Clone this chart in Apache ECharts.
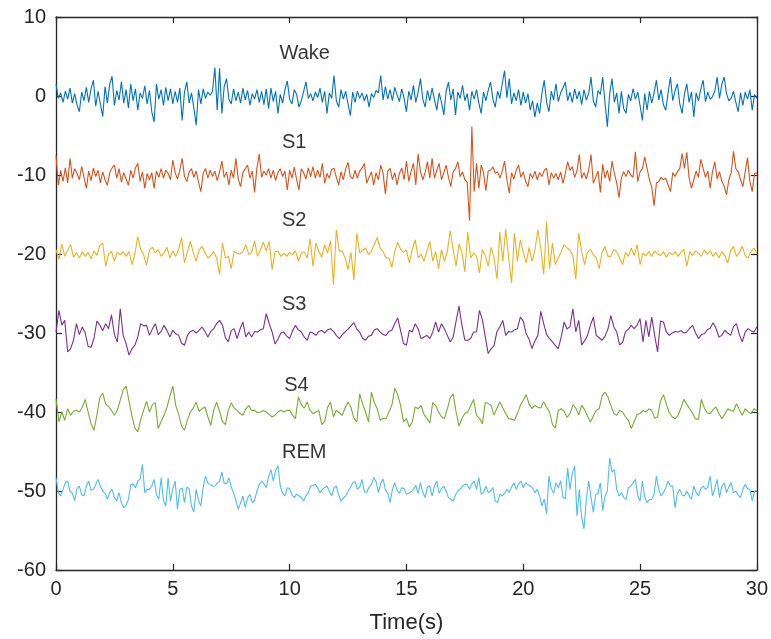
<!DOCTYPE html>
<html><head><meta charset="utf-8">
<script src="https://cdn.jsdelivr.net/npm/echarts@6/dist/echarts.min.js"></script>
<style>html,body{margin:0;padding:0;background:#fff;}#c{width:771px;height:639px;}</style>
</head><body><div id="c"></div>
<script>
// ---- data ----
const stageNames = ['Wake', 'S1', 'S2', 'S3', 'S4', 'REM'];
const stageOffsets = [0, -10, -20, -30, -40, -50];
const labelAnchors = [[9.55, 5.4], [9.65, -5.9], [9.65, -15.7], [9.65, -26.4], [9.75, -36.7], [9.65, -45.1]];
const durationSec = 30;
const xTicks = [0, 5, 10, 15, 20, 25, 30];
const yTicks = [-60, -50, -40, -30, -20, -10, 0, 10];

const wake = [
1.5,-0.3,0.4,-0.8,0.6,-0.4,1.0,-0.9,0.3,-1.1,
-2.0,0.5,-0.6,1.1,-0.8,0.9,2.0,-1.3,0.6,-1.0,
-2.6,1.2,-0.9,1.5,2.5,-1.2,0.7,-0.5,1.8,-0.9,
0.8,-1.5,1.5,-0.6,0.9,-1.8,0.4,-0.3,1.3,-1.0,
0.7,-2.0,-3.3,1.5,-0.4,0.8,-1.2,1.1,-0.6,0.9,
-1.0,0.6,-0.8,1.0,-3.1,0.5,1.8,-0.9,0.4,-1.5,
-3.7,0.8,-1.0,0.9,-0.3,0.5,0.1,0.6,3.6,-1.8,
3.5,-2.2,1.2,2.2,-0.4,-1.0,0.9,-0.6,0.5,-0.9,
1.0,-0.5,0.7,-1.2,0.3,-0.4,0.8,-0.8,0.6,-1.1,
0.9,-1.6,1.0,-0.7,0.6,-2.2,0.2,-0.9,0.8,1.9,
-0.4,-1.0,0.8,0.2,-1.4,-0.6,0.6,1.8,-0.3,0.3,
-0.6,0.5,-0.2,1.0,-0.8,0.6,-2.2,0.4,-0.3,2.6,
-0.6,-1.4,0.8,-0.4,0.6,-1.0,-2.5,0.5,-0.8,0.6,
-0.3,0.4,-0.6,0.2,-1.4,0.3,-0.2,0.7,0.4,2.6,
-0.5,1.2,-0.4,0.8,-0.6,1.1,0.1,-0.7,0.9,-0.3,
-2.0,0.6,-0.5,1.35,-0.8,0.5,2.2,-0.4,-1.4,0.7,
-0.6,1.0,-0.5,-1.8,0.4,-0.8,-2.4,0.6,1.76,-0.5,
0.9,-2.4,0.5,-0.3,1.35,-0.6,0.3,-1.8,0.6,-0.4,
0.8,-0.9,-2.2,0.5,-0.6,0.7,1.76,-0.4,-1.4,0.6,
-0.3,1.55,3.2,-0.2,2.2,-1.0,0.4,-0.6,0.8,-1.2,
0.5,-0.9,0.3,-1.8,-0.6,-2.65,-0.9,-2.2,0.4,2.0,
-0.8,-2.0,0.6,-0.5,1.55,-0.7,0.4,1.0,1.76,-0.6,
0.5,-0.8,0.9,-0.4,0.6,-1.1,0.8,-0.5,0.3,2.4,
-0.6,-1.4,0.7,0.2,2.4,-0.9,-3.9,0.3,2.2,-0.8,
0.4,-2.2,0.6,-1.6,-2.2,0.2,-0.6,0.92,-0.4,0.5,
-1.2,-3.1,0.3,-1.8,0.6,-0.9,0.4,2.0,-0.5,0.8,
-1.1,-1.8,0.4,2.4,-0.6,0.7,1.55,-1.0,-2.2,0.3,
1.55,-0.8,0.5,-2.65,0.4,-0.6,0.9,2.0,-0.7,0.5,
-0.4,-0.1,0.6,2.4,-0.3,1.5,2.4,0.3,-0.6,-0.3,
0.6,-0.8,-2.0,0.4,-1.2,0.5,-0.4,0.8,-1.8,0.2,
-0.3];

const s1 = [
2.5,-1.3,0.6,-0.8,0.9,-1.0,2.1,-0.4,0.8,0.2,
-0.6,1.1,-0.3,-1.7,0.5,-0.7,0.9,-0.2,0.6,-1.0,
0.4,-0.6,-1.3,0.3,0.9,1.26,-0.4,0.8,-0.9,0.3,
-0.5,-1.3,0.6,-0.4,0.9,1.47,-0.8,0.4,-1.7,0.2,
-0.6,0.3,-1.7,0.5,-0.3,0.8,-0.4,0.6,0.2,-0.6,
1.9,0.3,-0.5,0.6,2.1,-0.2,-0.84,0.4,0.8,-0.3,
0.5,-0.9,-2.1,0.2,0.84,-0.4,0.6,-0.2,0.5,-0.7,
0.4,1.76,-0.3,0.4,-1.26,0.6,-0.4,2.1,-0.5,-1.47,
0.3,0.8,1.26,-0.4,0.5,-2.2,0.9,2.65,-0.3,0.5,
0.0,0.8,-0.4,0.6,-0.7,0.3,0.8,-0.2,0.5,-1.9,
0.6,-0.4,1.0,-0.6,-1.9,0.8,0.3,-0.5,0.9,-0.2,
1.05,-0.4,0.6,-0.3,1.47,-1.05,0.2,-0.4,0.7,0.84,
-0.3,-1.26,0.4,-0.6,0.8,1.6,-0.2,-0.5,0.6,-0.4,
0.5,0.9,1.47,-1.05,-0.3,0.4,-1.26,0.3,-0.6,1.26,
0.2,-2.44,0.5,0.84,-0.6,0.3,-1.26,0.2,0.9,-0.6,
1.76,-0.8,0.5,1.47,-1.26,2.65,0.42,-0.6,0.3,1.68,
-0.4,2.1,-0.4,0.6,1.47,-0.6,0.3,1.26,-0.3,-1.47,
0.4,0.8,1.68,-0.2,0.4,-0.6,-0.9,-5.8,6.1,-2.1,
1.47,-1.7,1.26,0.3,-1.97,0.5,0.6,1.05,0.2,0.42,
-0.4,0.5,1.76,-0.6,-2.3,0.3,-0.5,0.6,1.26,-0.3,
0.4,-0.8,-1.47,0.2,-0.4,0.5,-0.6,0.3,-0.2,0.6,
0.84,-1.26,0.3,-0.4,0.2,-0.6,0.4,-1.05,0.2,1.68,
0.6,1.05,-0.3,0.5,2.6,-0.42,0.3,-0.5,0.6,2.6,
-1.05,-0.3,0.5,-2.2,1.35,-0.4,0.6,-0.8,1.76,0.2,
-1.0,-2.86,-0.4,0.42,-0.2,0.6,0.0,-0.3,2.94,-0.84,
0.4,0.8,2.3,0.84,-0.6,-1.5,-3.9,-1.0,-0.84,-0.3,
-0.6,-0.4,-1.26,-2.1,0.3,-0.2,0.42,0.8,2.7,0.84,
2.86,-0.4,-1.68,-0.6,0.5,-0.3,2.0,0.84,-0.3,0.5,
-1.68,0.4,1.68,-0.5,0.42,-0.8,-1.4,-2.5,-0.6,0.3,
3.0,0.8,0.42,-0.6,-1.47,0.4,2.2,-0.84,-2.1,0.2,
0.3];

const s2 = [
0.55,-0.7,1.26,-0.3,0.5,1.18,-0.4,0.2,
-0.5,0.3,-0.3,0.2,-0.6,0.4,-0.2,1.1,
1.39,-1.55,0.0,0.34,-0.92,0.2,-0.1,0.3,
-0.3,0.34,-1.34,0.0,2.2,0.6,-0.08,-1.43,
0.5,0.84,0.13,0.55,-0.3,0.2,0.84,-0.5,
0.4,-0.3,0.6,2.1,-1.13,0.3,1.6,0.2,
-0.92,0.5,0.97,0.2,-0.5,-0.2,0.3,-0.5,
-2.6,1.39,-0.5,-0.3,-1.85,0.34,0.1,0.0,
0.3,1.18,-0.08,0.2,1.68,-0.3,0.5,1.5,
0.4,1.6,-1.97,0.3,0.34,-0.3,0.1,-0.3,
0.2,-0.08,0.4,-0.92,0.1,0.3,-0.5,1.93,
-1.55,1.39,0.3,-0.4,1.18,0.1,1.68,-3.9,
3.07,0.34,0.4,-0.5,-1.97,0.2,-3.3,2.65,
0.13,0.5,0.76,-0.08,0.4,1.2,2.1,0.76,
0.3,-0.5,-0.5,-1.68,0.3,1.5,0.6,0.2,
0.5,-1.13,0.6,1.8,-0.5,0.0,-0.92,0.4,
1.6,-0.92,0.3,-1.85,0.55,-0.92,0.3,2.94,
0.55,-1.55,1.26,0.2,-2.27,2.77,-0.5,0.13,
-0.3,-2.4,0.55,-0.2,-1.55,0.84,-0.5,-3.2,
2.77,-0.92,3.2,-0.5,-3.7,2.65,-0.92,1.8,
0.2,-1.13,0.84,-0.92,0.5,3.07,0.76,-2.6,
4.1,-1.85,1.39,-1.34,-0.5,0.3,1.18,0.76,
0.5,-0.2,-3.2,2.65,0.3,-1.34,0.2,0.55,
-0.08,-0.5,-1.85,0.2,0.97,-0.3,-0.3,0.55,
0.3,-0.5,-1.34,0.2,-0.3,0.76,-0.2,1.18,
-1.34,0.1,-0.2,0.3,-0.3,0.4,0.0,-0.2,
0.3,-0.4,0.2,-0.1,0.3,-0.3,0.2,0.6,
-1.55,0.3,-0.2,0.4,0.1,-0.3,0.5,0.0,
0.4,-0.3,0.2,-0.5,0.3,-0.2,-1.13,0.4,
0.97,-0.3,0.2,0.97,-0.2,-0.5,0.3,0.76,
0.1];

const s3 = [
0.13,2.86,1.0,1.6,-2.4,-1.97,-0.92,1.18,
-0.2,0.76,0.0,-1.7,-1.8,-0.7,1.5,1.0,
0.3,1.18,0.55,2.3,-0.2,-1.13,3.07,-0.3,
-1.34,-2.8,-2.0,-1.55,-0.5,1.18,0.9,0.97,
-0.3,0.5,1.18,-0.2,0.2,0.97,0.3,-0.5,
0.34,-0.1,-0.3,-1.3,-1.55,-0.3,0.2,0.34,
0.0,0.34,0.76,0.2,-0.5,0.2,0.55,1.2,
1.6,1.0,-0.6,-1.13,0.3,0.55,-0.7,0.5,
1.39,-0.5,0.13,-0.5,0.2,0.13,0.4,0.55,
2.44,1.2,0.13,-1.4,-0.8,0.0,0.13,-0.4,
-0.7,0.3,0.97,0.4,0.13,-0.5,-0.92,0.13,
0.0,-0.3,0.2,0.34,0.0,0.4,0.55,0.2,
-0.3,-0.71,-0.2,0.13,0.5,0.9,1.3,0.5,
0.1,-0.7,-0.92,-0.4,-0.3,0.4,0.55,0.13,
-0.2,-0.3,0.2,0.34,1.2,1.9,0.3,-1.34,
-1.55,0.34,0.13,1.18,0.55,-0.71,-0.5,-0.3,
-0.71,0.1,1.39,0.13,1.18,0.55,-0.3,-1.13,
-0.5,1.5,3.4,1.0,-0.9,-0.92,-0.7,0.13,
0.13,2.86,1.7,-0.5,-2.6,-2.0,-1.6,0.2,
0.8,1.6,-0.3,0.2,0.13,0.4,0.55,2.0,
1.5,-0.1,-0.8,-1.97,-1.0,-0.3,2.73,1.2,
-0.2,-0.71,-1.13,-1.6,-1.97,-0.5,1.4,0.5,
0.8,3.07,0.13,1.6,-1.5,-1.0,-0.3,1.0,
2.0,-0.3,-0.6,-0.92,-0.4,0.5,2.2,0.8,
0.13,-1.5,-1.2,0.13,0.5,0.97,0.55,1.0,
1.8,-1.13,1.6,-0.5,2.0,-0.3,-2.4,1.5,
1.4,0.13,-0.3,0.0,0.2,0.13,0.3,0.0,
0.13,0.6,0.97,0.0,-0.71,-0.2,-0.1,0.4,
0.6,1.3,0.6,-0.5,-0.3,0.34,0.0,-0.3,
0.8,1.18,-0.2,-1.13,0.1,0.55,0.3,0.13,
0.8];

const s4 = [
1.68,-1.26,0.0,-1.05,0.42,-0.42,0.1,0.21,
0.0,0.6,1.6,0.0,-1.5,-2.3,-0.42,1.8,
2.4,1.0,0.7,0.2,-0.42,0.21,1.5,2.8,
3.28,1.4,-0.5,-2.0,-2.5,-1.0,0.2,1.34,
0.0,0.9,1.18,-2.1,-1.2,-0.42,0.6,2.0,
3.28,0.84,-0.3,-1.8,-2.3,-1.0,0.0,0.5,
1.26,0.1,0.4,0.63,-0.6,-1.68,0.2,1.26,
0.1,-1.2,-1.6,0.2,1.18,0.5,0.21,-0.2,
-0.42,0.4,0.84,0.2,0.21,-0.1,0.0,0.2,
0.0,-0.3,-0.63,-0.4,0.0,0.21,0.0,0.2,
0.21,-0.4,-0.84,1.9,0.9,0.5,1.26,0.2,
-0.21,0.0,0.21,-1.6,-1.2,0.6,1.26,-0.6,
0.21,-0.1,-0.42,0.5,1.26,0.6,-0.8,-1.26,
2.3,1.0,0.0,-1.26,2.5,1.2,0.42,-1.05,
-0.8,-0.84,0.0,0.84,3.0,2.2,0.84,-1.26,
-0.84,-1.9,-1.26,0.63,0.42,0.84,-0.3,-0.8,
-1.4,1.2,0.84,0.0,-0.6,-0.84,0.4,1.8,
2.3,0.0,-1.8,-0.8,-0.2,0.0,0.8,1.6,
-0.42,-0.8,-1.5,1.18,1.1,0.8,-0.4,0.5,
1.26,0.5,-0.2,-0.84,-0.9,-1.05,-0.2,0.84,
1.5,2.2,1.0,0.42,0.84,0.6,0.5,1.3,
0.6,0.0,-1.6,-2.0,0.2,0.42,0.1,-0.7,
-0.2,0.9,0.5,-0.4,0.84,0.3,-0.5,-1.26,
-0.5,0.21,0.42,2.0,2.5,1.9,0.84,-0.2,
-0.42,0.2,0.0,-0.6,-1.05,-2.1,-1.2,-0.3,
-0.2,0.2,0.0,0.4,0.21,-0.8,-0.6,1.4,
2.2,1.0,-0.1,-0.6,-0.84,-0.42,0.5,1.6,
1.0,0.42,-0.2,-0.9,-0.9,1.6,0.5,-0.1,
-0.21,0.3,0.63,-0.2,-0.84,-0.3,0.42,0.21,
0.1,1.05,0.3,-0.42,0.42,0.0,-0.21,0.42,
0.2];

const rem = [
1.68,-0.21,-0.63,0.2,1.05,1.26,0.0,-0.3,-1.26,0.3,
0.63,-0.5,-0.6,0.6,1.26,0.1,0.2,0.8,1.47,0.6,
0.0,-0.3,-1.05,-0.2,0.2,-0.8,-1.26,-0.2,-1.5,-2.1,
-1.8,-1.05,0.8,0.9,0.4,1.26,1.5,3.36,-0.21,0.2,
0.21,0.6,1.47,-0.5,-1.0,1.68,-1.2,-1.9,1.68,-1.3,
0.3,1.26,-2.3,0.2,0.4,-1.47,0.5,0.3,-1.9,-2.65,
0.21,-1.2,-1.9,0.5,1.9,1.0,0.84,0.6,0.63,1.0,
1.26,2.4,1.0,0.9,1.68,0.5,-0.2,-1.2,-2.3,-1.5,
-0.63,-2.1,-0.9,-0.42,-1.47,-1.2,0.0,0.8,1.26,0.9,
0.42,1.8,2.7,1.26,2.6,3.2,0.63,-0.3,-0.63,0.42,
0.3,-0.5,-0.84,-0.4,-0.63,-0.8,-1.26,-0.6,-0.2,0.63,
0.7,0.84,0.4,-0.21,0.2,0.42,0.63,0.0,-0.63,0.4,
0.63,-0.5,-1.26,-0.9,-0.63,0.0,0.42,1.0,1.2,0.21,
0.5,1.47,-0.1,-0.2,0.5,0.84,1.7,1.2,-0.21,1.0,
1.5,0.2,-0.3,-1.47,0.2,1.05,0.1,-0.3,0.42,0.3,
-0.4,-0.3,-0.1,0.21,0.7,-0.3,1.05,-0.2,-0.84,0.5,
0.63,-0.63,0.63,1.26,-0.3,0.3,0.63,0.0,-0.84,-1.05,
-1.26,-0.5,0.0,0.2,0.6,0.84,0.84,0.21,0.9,1.26,
0.21,1.68,-0.42,-0.2,0.63,-0.2,0.0,0.42,-1.26,-1.47,
-0.42,-0.63,-0.3,0.21,-0.21,0.5,1.05,0.21,0.9,1.26,
0.42,1.05,0.8,0.63,0.4,-0.21,0.21,-0.63,-1.9,-1.0,
-2.9,1.9,0.3,-0.3,1.05,0.4,1.3,-0.8,-1.0,2.9,
0.21,2.2,3.15,-3.15,0.21,-3.36,-4.8,-1.05,1.26,-0.8,
-2.7,-0.5,-0.3,1.05,-2.5,-0.63,0.0,4.2,2.4,2.7,
0.21,-0.63,-0.2,-0.8,-1.05,0.42,0.6,1.05,1.47,-0.6,
-1.26,1.26,-0.8,-1.47,-1.1,-1.05,-0.42,1.9,0.2,-0.63,
-0.21,0.42,1.26,0.6,0.63,-2.1,-0.3,0.21,-0.5,-0.63,
0.0,-0.6,-1.05,0.63,-0.2,-0.63,0.3,0.63,0.21,0.5,
1.9,-0.63,0.3,1.47,-0.84,0.6,1.05,-0.21,0.5,1.05,
-0.21,0.0,-0.5,-0.84,0.21,0.84,0.3,0.21,-1.26,0.0,
0.0];

const signals = [wake, s1, s2, s3, s4, rem];

// ---- chart ----
const colors = ['#0072BD', '#D95319', '#EDB120', '#7E2F8E', '#77AC30', '#4DBEEE'];
const axisColor = '#262626';
const fontFam = '"Liberation Sans", Arial, Helvetica, sans-serif';

function toPoints(arr, off) {
  const n = arr.length;
  return arr.map((v, i) => [i * durationSec / (n - 1), v + off]);
}

const series = signals.map((sig, k) => ({
  type: 'line',
  name: stageNames[k],
  xAxisIndex: 0, yAxisIndex: 0,
  data: toPoints(sig, stageOffsets[k]),
  showSymbol: false,
  symbol: 'none',
  sampling: false,
  lineStyle: { color: colors[k], width: 1.1 },
  itemStyle: { color: colors[k] },
  silent: true,
  z: 2
}));

series.push({
  type: 'scatter',
  xAxisIndex: 0, yAxisIndex: 0,
  symbolSize: 1,
  itemStyle: { color: 'rgba(0,0,0,0)' },
  silent: true,
  z: 5,
  data: labelAnchors.map((p, i) => ({ value: p, name: stageNames[i] })),
  label: {
    show: true, position: 'right', distance: 0,
    formatter: '{b}', color: '#000', fontSize: 20, fontFamily: fontFam
  }
});

const xMin = xTicks[0], xMax = xTicks[xTicks.length - 1], xInt = xTicks[1] - xTicks[0];
const yMin = yTicks[0], yMax = yTicks[yTicks.length - 1], yInt = yTicks[1] - yTicks[0];

const baseAxis = {
  type: 'value',
  axisLine: { show: true, onZero: false, lineStyle: { color: axisColor, width: 1.3 } },
  axisTick: { show: true, inside: true, length: 6, lineStyle: { color: axisColor, width: 1.2 } },
  splitLine: { show: false },
  minorTick: { show: false }
};

const option = {
  animation: false,
  backgroundColor: '#ffffff',
  grid: { left: 56, right: 12, top: 17, bottom: 67, containLabel: false },
  xAxis: [
    Object.assign({}, baseAxis, {
      min: xMin, max: xMax, interval: xInt, position: 'bottom',
      axisLabel: { color: axisColor, fontSize: 20, fontFamily: fontFam, margin: 9 },
      name: 'Time(s)', nameLocation: 'middle', nameGap: 42,
      nameTextStyle: { color: axisColor, fontSize: 22, fontFamily: fontFam }
    }),
    Object.assign({}, baseAxis, {
      min: xMin, max: xMax, interval: xInt, position: 'top',
      axisLabel: { show: false }
    })
  ],
  yAxis: [
    Object.assign({}, baseAxis, {
      min: yMin, max: yMax, interval: yInt, position: 'left',
      axisLabel: { color: axisColor, fontSize: 20, fontFamily: fontFam, margin: 10 }
    }),
    Object.assign({}, baseAxis, {
      min: yMin, max: yMax, interval: yInt, position: 'right',
      axisLabel: { show: false }
    })
  ],
  series: series
};

const chart = echarts.init(document.getElementById('c'), null, { renderer: 'canvas' });
chart.setOption(option);
</script>
</body></html>
